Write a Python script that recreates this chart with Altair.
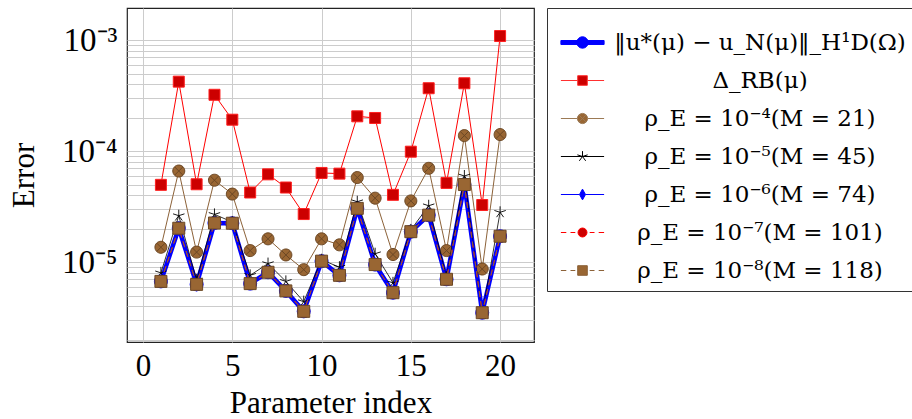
import altair as alt
import pandas as pd

# ---------------- data ----------------
param_index = list(range(1, 21))
true_error = [6.7e-6, 2.02e-5, 6.3e-6, 2.25e-5, 2.24e-5, 6.4e-6, 8.1e-6, 5.5e-6, 3.6e-6, 1.02e-5,
              7.6e-6, 3.05e-5, 9.5e-6, 5.3e-6, 1.88e-5, 2.65e-5, 7.0e-6, 5.0e-5, 3.5e-6, 1.71e-5]
delta_rb = [4.97e-5, 4.23e-4, 5.03e-5, 3.22e-4, 1.92e-4, 4.24e-5, 6.18e-5, 4.70e-5, 2.71e-5, 6.36e-5,
            6.27e-5, 2.06e-4, 1.99e-4, 4.04e-5, 9.89e-5, 3.69e-4, 5.17e-5, 4.09e-4, 3.27e-5, 1.09e-3]
rho_1e4 = [1.36e-5, 6.62e-5, 1.23e-5, 5.47e-5, 4.10e-5, 1.27e-5, 1.62e-5, 1.16e-5, 8.55e-6, 1.62e-5,
           1.43e-5, 5.78e-5, 3.77e-5, 1.17e-5, 3.56e-5, 7.0e-5, 1.27e-5, 1.38e-4, 8.66e-6, 1.41e-4]
rho_1e5 = [8.0e-6, 2.62e-5, 6.9e-6, 2.69e-5, 2.3e-5, 7.6e-6, 9.7e-6, 6.7e-6, 4.4e-6, 1.05e-5,
           9.0e-6, 3.5e-5, 1.19e-5, 6.5e-6, 1.95e-5, 3.22e-5, 7.3e-6, 5.97e-5, 3.4e-6, 2.81e-5]
rho_1e6 = [6.7e-6, 2.02e-5, 6.3e-6, 2.25e-5, 2.24e-5, 6.4e-6, 8.1e-6, 5.5e-6, 3.6e-6, 1.02e-5,
           7.6e-6, 3.05e-5, 9.5e-6, 5.3e-6, 1.88e-5, 2.65e-5, 7.0e-6, 5.0e-5, 3.5e-6, 1.71e-5]
rho_1e7 = [6.7e-6, 2.02e-5, 6.3e-6, 2.25e-5, 2.24e-5, 6.4e-6, 8.1e-6, 5.5e-6, 3.6e-6, 1.02e-5,
           7.6e-6, 3.05e-5, 9.5e-6, 5.3e-6, 1.88e-5, 2.65e-5, 7.0e-6, 5.0e-5, 3.5e-6, 1.71e-5]
rho_1e8 = [6.7e-6, 2.02e-5, 6.3e-6, 2.25e-5, 2.24e-5, 6.4e-6, 8.1e-6, 5.5e-6, 3.6e-6, 1.02e-5,
           7.6e-6, 3.05e-5, 9.5e-6, 5.3e-6, 1.88e-5, 2.65e-5, 7.0e-6, 5.0e-5, 3.5e-6, 1.71e-5]

series_labels = [
    "‖u*(μ) − u_N(μ)‖_H¹D(Ω)",
    "Δ_RB(μ)",
    "ρ_E = 10⁻⁴(M = 21)",
    "ρ_E = 10⁻⁵(M = 45)",
    "ρ_E = 10⁻⁶(M = 74)",
    "ρ_E = 10⁻⁷(M = 101)",
    "ρ_E = 10⁻⁸(M = 118)",
]
series_values = [true_error, delta_rb, rho_1e4, rho_1e5, rho_1e6, rho_1e7, rho_1e8]

x_ticks = [0, 5, 10, 15, 20]
y_major = [1e-5, 1e-4, 1e-3]
y_major_labels = ["10⁻⁵", "10⁻⁴", "10⁻³"]
x_title = "Parameter index"
y_title = "Error"

# ---------------- styles ----------------
CIRCLE = "circle"
SQUARE = "square"
OTIMES = "M1,0A1,1 0 1,1 -1,0A1,1 0 1,1 1,0ZM-0.68,-0.68L0.68,0.68M-0.68,0.68L0.68,-0.68"
STAR = "M0,0L0,-1M0,0L-0.951,-0.309M0,0L-0.588,0.809M0,0L0.588,0.809M0,0L0.951,-0.309"
DIAMOND = "M0,-1L0.6,0L0,1L-0.6,0Z"

styles = [
    dict(line="#0000ff", lw=4.5, dash=None, shape=CIRCLE, fill="#0000ff", stroke="#0000ff", sw=1, size=169),
    dict(line="#ff0000", lw=1, dash=None, shape=SQUARE, fill="#cc0000", stroke="#ff2020", sw=1, size=121),
    dict(line="#8c6239", lw=1, dash=None, shape=OTIMES, fill="#996633", stroke="#6b4724", sw=1, size=144),
    dict(line="#000000", lw=0.8, dash=None, shape=STAR, fill="transparent", stroke="#000000", sw=0.9, size=144),
    dict(line="#0000ff", lw=1, dash=None, shape=DIAMOND, fill="#0000ff", stroke="#0000ff", sw=1, size=100),
    dict(line="#ff0000", lw=1, dash=[6, 4], shape=CIRCLE, fill="#cc0000", stroke="#ff0000", sw=1, size=100),
    dict(line="#8c6239", lw=1, dash=[6, 4], shape=SQUARE, fill="#996633", stroke="#6b4724", sw=1, size=144),
]

legend_paths = [
    "M-3.6,-0.33H3.6V0.33H-3.6ZM0.95,0A0.95,0.95 0 1,1 -0.95,0A0.95,0.95 0 1,1 0.95,0Z",
    "M-3.6,0H-0.8M0.8,0H3.6M-0.8,-0.8H0.8V0.8H-0.8Z",
    "M-3.6,0H-0.85M0.85,0H3.6M0.85,0A0.85,0.85 0 1,1 -0.85,0A0.85,0.85 0 1,1 0.85,0Z"
    "M-0.6,-0.6L0.6,0.6M-0.6,0.6L0.6,-0.6",
    "M-3.6,0H3.6M0,0L0,-0.9M0,0L-0.856,-0.278M0,0L-0.529,0.728M0,0L0.529,0.728M0,0L0.856,-0.278",
    "M-3.6,0H-0.5M0.5,0H3.6M0,-0.9L0.5,0L0,0.9L-0.5,0Z",
    "M-3.6,0H-2.7M-2.0,0H-1.2M1.2,0H2.0M2.7,0H3.6M0.75,0A0.75,0.75 0 1,1 -0.75,0A0.75,0.75 0 1,1 0.75,0Z",
    "M-3.6,0H-2.7M-2.0,0H-1.2M1.2,0H2.0M2.7,0H3.6M-0.8,-0.8H0.8V0.8H-0.8Z",
]
legend_fill = ["#0000ff", "#cc0000", "#996633", "transparent", "#0000ff", "#cc0000", "#996633"]
legend_stroke = ["#0000ff", "#ff3030", "#9c7a55", "#000000", "#0000ff", "#ff0000", "#8c6239"]

# ---------------- table ----------------
rows = []
for lab, vals in zip(series_labels, series_values):
    for i, v in zip(param_index, vals):
        rows.append({"idx": i, "value": v, "series": lab})
df = pd.DataFrame(rows)

FONT = "Liberation Serif"
LEGEND_FONT = "DejaVu Serif"

grid_values = [k * 10.0 ** e for e in (-6, -5, -4, -3) for k in range(1, 10)
               if 1.9e-6 <= k * 10.0 ** e <= 1.95e-3]
label_expr = " : ".join(
    f"abs(datum.value - {v}) < {v * 1e-6} ? '{t}'" for v, t in zip(y_major, y_major_labels)
) + " : ''"

x_scale = alt.Scale(domain=[-0.9, 21.9], nice=False, zero=False)
y_scale = alt.Scale(type="log", domain=[1.905e-6, 1.95e-3], nice=False)

x_axis = alt.Axis(values=x_ticks, title=x_title, grid=True, ticks=False, domain=False,
                  labelFontSize=31, labelPadding=9, labelFlush=False,
                  titleFontSize=31, titleFontWeight="normal", titleY=70,
                  titleBaseline="alphabetic")
y_axis = alt.Axis(values=grid_values, labelExpr=label_expr, title=y_title, grid=True,
                  ticks=False, domain=False, labelOverlap=False, labelFontSize=33,
                  labelPadding=10, labelBaseline="middle",
                  titleFontSize=31, titleFontWeight="normal", titleX=-103, titleY=167,
                  titleBaseline="middle", titleAngle=270)

X = alt.X("idx:Q", scale=x_scale, axis=x_axis)
Y = alt.Y("value:Q", scale=y_scale, axis=y_axis)

layers = []
for lab, st in zip(series_labels, styles):
    base = alt.Chart(df).transform_filter(alt.datum.series == lab)
    line_kw = dict(color=st["line"], strokeWidth=st["lw"])
    if st["dash"]:
        line_kw["strokeDash"] = st["dash"]
    layers.append(base.mark_line(**line_kw).encode(x=X, y=Y))
    layers.append(base.mark_point(shape=st["shape"], size=st["size"], fill=st["fill"],
                                  stroke=st["stroke"], strokeWidth=st["sw"], opacity=1,
                                  filled=True).encode(x=X, y=Y))

legend = alt.Legend(title=" ", orient="right", offset=13)

legend_layer = alt.Chart(df).transform_filter("false").mark_point(filled=True, opacity=1, strokeWidth=1).encode(
    x=X, y=Y,
    shape=alt.Shape("series:N", scale=alt.Scale(domain=series_labels, range=legend_paths), legend=legend),
    fill=alt.Fill("series:N", scale=alt.Scale(domain=series_labels, range=legend_fill)),
    stroke=alt.Stroke("series:N", scale=alt.Scale(domain=series_labels, range=legend_stroke)),
)

chart = alt.layer(*layers, legend_layer).properties(
    width=407, height=334,
    autosize=alt.AutoSizeParams(type="none"),
    padding={"left": 127, "top": 8, "right": 378, "bottom": 77},
).configure_view(
    stroke="#222222", strokeWidth=1.2
).configure_axis(
    gridColor="#cccccc", gridWidth=1, labelFont=FONT, titleFont=FONT,
    labelColor="black", titleColor="black"
).configure_legend(
    padding=8, rowPadding=14, titleFontSize=10, titlePadding=5,
    labelFont=LEGEND_FONT, labelFontSize=23, labelColor="black", labelLimit=1000,
    labelAlign="center", labelOffset=166, symbolSize=144, symbolOffset=16,
    symbolStrokeWidth=1,
    strokeColor="#333333", fillColor="white", cornerRadius=0
)

chart.save("out.html", embed_options={"renderer": "svg", "actions": False})
